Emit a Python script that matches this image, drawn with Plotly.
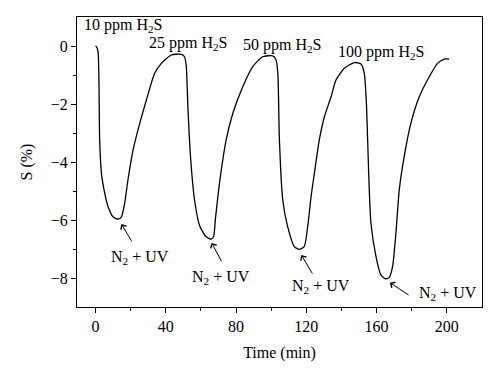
import plotly.graph_objects as go

# Data
time_min = [0, 0.6, 1.5, 2.4, 3.4, 5.3, 7.2, 10.0, 12.9, 14.8, 16.6, 18.5, 21.4, 25.2, 29.0, 33.7,
            37.5, 43.2, 48.9, 50.7, 51.7, 52.6, 54.1, 56.4, 59.3, 63.0, 65.9, 67.2, 68.4, 70.6,
            74.4, 78.2, 83.9, 89.5, 95.2, 100.9, 102.8, 103.8, 104.7, 106.6, 109.4, 113.2,
            116.0, 118.8, 120.8, 122.7, 124.6, 127.4, 130.3, 134.1, 136.9, 141.6, 147.3,
            151.1, 153.0, 154.3, 155.5, 156.8, 159.7, 162.5, 165.3, 167.2, 169.1, 171.0,
            172.9, 175.7, 179.5, 184.3, 190.0, 194.7, 198.5, 201.3]
s_percent = [0, -0.02, -0.2, -3.24, -4.39, -5.08, -5.54, -5.89, -5.97, -5.89, -5.43, -4.62,
             -3.59, -2.67, -1.86, -0.94, -0.6, -0.31, -0.29, -0.37, -0.71, -2.09, -3.82, -5.31,
             -6.2, -6.58, -6.66, -6.58, -5.89, -4.73, -3.24, -2.32, -1.4, -0.71, -0.37, -0.34,
             -0.48, -0.94, -3.24, -5.31, -6.23, -6.92, -7.01, -6.92, -6.23, -5.2, -4.39, -3.24,
             -2.44, -1.75, -1.17, -0.77, -0.57, -0.62, -0.94, -2.09, -4.39, -6.11, -7.27, -7.9,
             -8.03, -7.98, -7.61, -6.46, -4.97, -3.82, -2.67, -1.75, -1.06, -0.6, -0.45, -0.45]

conc_labels = ["10 ppm H<sub>2</sub>S", "25 ppm H<sub>2</sub>S",
               "50 ppm H<sub>2</sub>S", "100 ppm H<sub>2</sub>S"]
conc_x = [-7.8, 29.5, 82.6, 136.9]
conc_y = [0.7, 0.09, 0.03, -0.22]

uv_label = "N<sub>2</sub> + UV"
uv_text_x = [25.4, 71.5, 128.3, 200.7]
uv_text_y = [-7.31, -7.97, -8.31, -8.52]
uv_tip_x = [14.8, 66.1, 117.2, 167.6]
uv_tip_y = [-6.14, -6.79, -7.21, -8.16]
uv_tail_x = [21.2, 72.3, 124.0, 179.1]
uv_tail_y = [-6.79, -7.48, -7.9, -8.62]

x_ticks = [0, 40, 80, 120, 160, 200]
y_ticks = [0, -2, -4, -6, -8]

FONT = "Liberation Serif"
FS = 16

fig = go.Figure()
fig.add_trace(go.Scatter(x=time_min, y=s_percent, mode="lines",
                         line=dict(color="black", width=1.3, shape="spline", smoothing=0.6),
                         showlegend=False, hoverinfo="skip"))

annotations = []
for t, x, y in zip(conc_labels, conc_x, conc_y):
    annotations.append(dict(x=x, y=y, xref="x", yref="y", text=t, showarrow=False,
                            xanchor="left", yanchor="middle",
                            font=dict(family=FONT, size=FS, color="black")))
for x, y in zip(uv_text_x, uv_text_y):
    annotations.append(dict(x=x, y=y, xref="x", yref="y", text=uv_label, showarrow=False,
                            xanchor="center", yanchor="middle",
                            font=dict(family=FONT, size=FS, color="black")))
for tx, ty, sx, sy in zip(uv_tip_x, uv_tip_y, uv_tail_x, uv_tail_y):
    annotations.append(dict(x=tx, y=ty, xref="x", yref="y", ax=sx, ay=sy,
                            axref="x", ayref="y", text="", showarrow=True,
                            arrowhead=4, arrowsize=1.3, arrowwidth=1, arrowcolor="black"))

fig.update_layout(
    width=500, height=382,
    margin=dict(l=77, r=18, t=17, b=75),
    paper_bgcolor="white", plot_bgcolor="white",
    font=dict(family=FONT, size=FS, color="black"),
    annotations=annotations,
    xaxis=dict(range=[-10.5, 220], tickvals=x_ticks, ticks="outside", ticklen=5,
               tickwidth=1, tickcolor="black", showline=True, linecolor="black",
               linewidth=1.2, mirror=True, showgrid=False, zeroline=False,
               automargin=False,
               minor=dict(tickvals=[20, 60, 100, 140, 180], ticks="outside", ticklen=3,
                          tickcolor="black", showgrid=False),
               title=dict(text="Time (min)", font=dict(family=FONT, size=FS), standoff=12),
               tickfont=dict(family=FONT, size=FS)),
    yaxis=dict(range=[-9, 1], tickvals=y_ticks, ticktext=["0", "\u22122", "\u22124", "\u22126", "\u22128"],
               ticks="outside", ticklen=5, tickwidth=1, tickcolor="black",
               showline=True, linecolor="black", linewidth=1.2, mirror=True,
               showgrid=False, zeroline=False, automargin=False,
               minor=dict(tickvals=[-1, -3, -5, -7], ticks="outside", ticklen=3,
                          tickcolor="black", showgrid=False),
               title=dict(text="S (%)", font=dict(family=FONT, size=FS), standoff=14),
               tickfont=dict(family=FONT, size=FS)),
)

fig.write_html("out.html", config={"displayModeBar": False},
               post_script="document.body.style.margin='0';")
